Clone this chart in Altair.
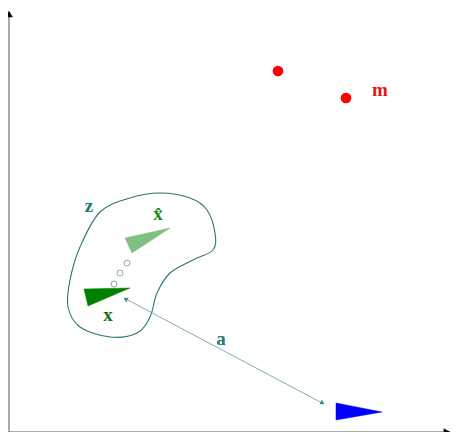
import altair as alt
import pandas as pd

# ---- diagram data (pixel-like coordinates of the reference picture) ----
axis_x0 = [9, 9]
axis_y0 = [432, 432]
axis_x1 = [9, 450]
axis_y1 = [12, 432]
axis_head_x = [447, 9]
axis_head_y = [432, 14]
axis_head_angle = [90, 0]

m_x = [278, 346]
m_y = [71, 98]

blob_x = [100, 130, 160, 190, 207, 215, 213, 193, 170, 157, 150, 137, 110, 80, 68, 70, 80]
blob_y = [212, 198, 193, 198, 210, 233, 250, 260, 273, 293, 317, 333, 337, 327, 307, 280, 247]

xhat_tri_x = [125, 170, 132]
xhat_tri_y = [238, 228, 253]

x_tri_x = [84, 130, 88]
x_tri_y = [289, 288, 306]

blue_tri_x = [336, 382, 336]
blue_tri_y = [403, 412, 420]

dots_x = [127, 120, 114]
dots_y = [263, 273, 284]

arrow_x = [124]
arrow_y = [298]
arrow_x2 = [324]
arrow_y2 = [404]
arrow_head_x = [125.5, 322.5]
arrow_head_y = [299, 403]
arrow_head_angle = [298, 118]

labels = ["m", "z", "x̂", "x", "a"]
label_x = [380, 89, 158, 108, 221]
label_y = [90, 206, 214, 315, 339]
label_color = ["#e8141a", "#1f7a7a", "#1a8a1a", "#1a6a1a", "#1f7a7a"]

# ---- scales ----
xs = alt.Scale(domain=[8, 453], nice=False, zero=False)
ys = alt.Scale(domain=[8, 432], nice=False, zero=False, reverse=True)


def X(f="x"):
    return alt.X(f"{f}:Q", scale=xs, axis=None)


def Y(f="y"):
    return alt.Y(f"{f}:Q", scale=ys, axis=None)


axes = alt.Chart(pd.DataFrame({"x": axis_x0, "y": axis_y0, "x2": axis_x1, "y2": axis_y1})).mark_rule(
    color="#555555", strokeWidth=1
).encode(x=X(), y=Y(), x2="x2:Q", y2="y2:Q")

axis_heads = alt.Chart(pd.DataFrame({"x": axis_head_x, "y": axis_head_y, "a": axis_head_angle})).mark_point(
    shape="triangle-up", filled=True, color="#000000", size=60, opacity=1
).encode(x=X(), y=Y(), angle=alt.Angle("a:Q", scale=None))

blob = alt.Chart(pd.DataFrame({"x": blob_x, "y": blob_y, "o": list(range(len(blob_x)))})).mark_line(
    interpolate="cardinal-closed", color="#2a7474", strokeWidth=1.1
).encode(x=X(), y=Y(), order="o:Q")


def tri(xv, yv, color):
    df = pd.DataFrame({"x": xv, "y": yv, "o": list(range(len(xv)))})
    return alt.Chart(df).mark_line(
        interpolate="linear-closed", color=color, fill=color, strokeWidth=0.5
    ).encode(x=X(), y=Y(), order="o:Q")


tri_hat = tri(xhat_tri_x, xhat_tri_y, "#80c080")
tri_x = tri(x_tri_x, x_tri_y, "#008000")
tri_blue = tri(blue_tri_x, blue_tri_y, "#0000ff")

dots = alt.Chart(pd.DataFrame({"x": dots_x, "y": dots_y})).mark_point(
    shape="circle", filled=False, color="#8aa08a", size=36, strokeWidth=0.9, opacity=1
).encode(x=X(), y=Y())

m_pts = alt.Chart(pd.DataFrame({"x": m_x, "y": m_y})).mark_circle(
    color="#ff0000", size=115, opacity=1
).encode(x=X(), y=Y())

arrow = alt.Chart(pd.DataFrame({"x": arrow_x, "y": arrow_y, "x2": arrow_x2, "y2": arrow_y2})).mark_rule(
    color="#5f9898", strokeWidth=0.8
).encode(x=X(), y=Y(), x2="x2:Q", y2="y2:Q")

arrow_heads = alt.Chart(pd.DataFrame({"x": arrow_head_x, "y": arrow_head_y, "a": arrow_head_angle})).mark_point(
    shape="triangle-up", filled=True, color="#3f8888", size=24, opacity=1
).encode(x=X(), y=Y(), angle=alt.Angle("a:Q", scale=None))

text = alt.Chart(pd.DataFrame({"x": label_x, "y": label_y, "t": labels, "c": label_color})).mark_text(
    font="Liberation Serif", fontWeight="bold", fontSize=19, baseline="middle", align="center"
).encode(x=X(), y=Y(), text="t:N", color=alt.Color("c:N", scale=None))

chart = alt.layer(
    axes, axis_heads, blob, tri_hat, tri_x, tri_blue, dots, m_pts, arrow, arrow_heads, text
).properties(
    width=445, height=424, padding=0, autosize=alt.AutoSizeParams(type="none")
).configure_view(stroke=None)

chart.save("out.html", embed_options={"renderer": "svg", "actions": False})
